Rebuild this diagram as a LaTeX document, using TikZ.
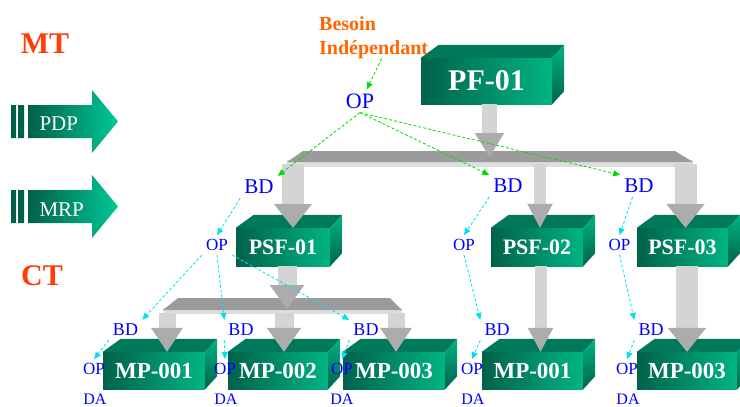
\documentclass[tikz,border=0pt]{standalone}
\usepackage{fontspec}
\setmainfont{Liberation Serif}
\usetikzlibrary{arrows.meta}
\definecolor{boxdark}{RGB}{0,98,74}
\definecolor{boxlight}{RGB}{0,180,132}
\definecolor{boxtop}{RGB}{0,120,90}
\definecolor{pipegray}{RGB}{212,212,212}
\definecolor{headgray}{RGB}{172,172,172}
\definecolor{busgray}{RGB}{155,155,155}
\definecolor{buslight}{RGB}{222,222,222}
\definecolor{labelblue}{RGB}{0,0,255}
\definecolor{dashgreen}{RGB}{0,220,0}
\definecolor{dashcyan}{RGB}{0,225,235}
\definecolor{titlered}{RGB}{255,60,10}
\definecolor{needorange}{RGB}{255,102,0}
\definecolor{flowdark}{RGB}{0,96,72}
\definecolor{flowlight}{RGB}{0,200,150}
\newcommand{\fs}[1]{\fontsize{#1}{#1}\selectfont}

\begin{document}
\begin{tikzpicture}[x=1pt,y=-1pt,
    pipe/.style={line width=#1, draw=pipegray, -{Triangle[width=10pt 1.3, length=24pt, line width=0pt, color=headgray]}}]
    \tikzstyle{block}=[inner sep=0pt, left color=boxdark, right color=boxlight, text=white]
    \tikzstyle{lbl}=[text=labelblue, inner sep=4pt]
    \tikzstyle{gconnect}=[-{Triangle[length=7pt,width=6pt]}, dashgreen, dash pattern=on 3pt off 2pt, line width=0.8pt]
    \tikzstyle{cconnect}=[-{Triangle[length=7pt,width=6pt]}, dashcyan, dash pattern=on 3pt off 2pt, line width=0.8pt]

    \useasboundingbox (0,0) rectangle (740,407);

    % horizons and plans
    \node[text=titlered, font=\fs{30}\bfseries] (mt) at (45,44) {MT};
    \node[text=titlered, font=\fs{30}\bfseries] (ct) at (42,276) {CT};
    \shade[left color=flowdark, right color=flowlight] (28,105) -- (92,105) -- (92,90) -- (118,121.5) -- (92,153) -- (92,138) -- (28,138) -- cycle;
    \fill[flowdark] (11,105) rectangle (16,138) (18,105) rectangle (24,138);
    \node[text=white, font=\fs{21}, anchor=west] (pdp) at (36,124) {PDP};
    \shade[left color=flowdark, right color=flowlight] (28,190) -- (92,190) -- (92,175) -- (118,206.5) -- (92,238) -- (92,223) -- (28,223) -- cycle;
    \fill[flowdark] (11,190) rectangle (16,223) (18,190) rectangle (24,223);
    \node[text=white, font=\fs{21}, anchor=west] (mrp) at (36,210) {MRP};

    % articles
    \node[block, minimum width=131pt, minimum height=46pt, font=\fs{30}\bfseries] (pf) at (486.5,81) {PF-01};
    \node[block, minimum width=94pt, minimum height=38pt, font=\fs{22}\bfseries] (psfa) at (283,247) {PSF-01};
    \node[block, minimum width=92pt, minimum height=38pt, font=\fs{22}\bfseries] (psfb) at (537,247) {PSF-02};
    \node[block, minimum width=91pt, minimum height=38pt, font=\fs{22}\bfseries] (psfc) at (682.5,247) {PSF-03};
    \node[block, minimum width=102pt, minimum height=37pt, font=\fs{23}\bfseries] (mpa) at (154,370.5) {MP-001};
    \node[block, minimum width=100pt, minimum height=37pt, font=\fs{23}\bfseries] (mpb) at (278,370.5) {MP-002};
    \node[block, minimum width=102pt, minimum height=37pt, font=\fs{23}\bfseries] (mpc) at (394,370.5) {MP-003};
    \node[block, minimum width=101pt, minimum height=37pt, font=\fs{23}\bfseries] (mpd) at (532.5,370.5) {MP-001};
    \node[block, minimum width=100pt, minimum height=37pt, font=\fs{23}\bfseries] (mpe) at (687,370.5) {MP-003};
    \foreach \n in {pf,psfa,psfb,psfc,mpa,mpb,mpc,mpd,mpe} {
      \fill[boxtop] (\n.north west) -- ++(18,-13) -- ([shift={(12,-13)}]\n.north east) -- (\n.north east) -- cycle;
      \shade[top color=boxlight, bottom color=boxdark] (\n.north east) -- ++(12,-13) -- ([shift={(12,-13)}]\n.south east) -- (\n.south east) -- cycle;
    }

    % gozinto links
    \fill[buslight] (287,160) rectangle (693,167);
    \fill[busgray] (303,151) -- (675,151) -- (693,162) -- (287,162) -- cycle;
    \coordinate (bustop) at (490,157);
    \coordinate (busbot) at (490,164);
    \fill[buslight] (163,308) rectangle (402,314);
    \fill[busgray] (178,298) -- (390,298) -- (402,310) -- (163,310) -- cycle;
    \coordinate (subtop) at (287,309);
    \coordinate (subbot) at (287,313);
    \coordinate (dropa) at ([xshift=10pt]psfa.north);
    \coordinate (dropb) at ([xshift=3pt]psfb.north);
    \coordinate (dropc) at ([xshift=3pt]psfc.north);
    \coordinate (dropd) at ([xshift=13pt]mpa.north);
    \coordinate (drope) at ([xshift=6pt]mpb.north);
    \coordinate (dropf) at ([xshift=2pt]mpc.north);
    \coordinate (dropg) at ([xshift=8pt]mpd.north);
    \draw[pipe=22pt] (dropa |- busbot) -- (dropa);
    \draw[pipe=12pt] (dropb |- busbot) -- (dropb);
    \draw[pipe=22pt] (dropc |- busbot) -- (dropc);
    \draw[pipe=15pt] ([xshift=3pt]pf.south) -- ([xshift=3pt]pf.south |- bustop);
    \draw[pipe=17pt] (dropd |- subbot) -- (dropd);
    \draw[pipe=19pt] (drope |- subbot) -- (drope);
    \draw[pipe=17pt] (dropf |- subbot) -- (dropf);
    \draw[pipe=19pt] ([xshift=4pt]psfa.south) -- ([xshift=4pt]psfa.south |- subtop);
    \draw[pipe=12pt] (dropg |- psfb.south) -- (dropg);
    \draw[pipe=22pt] (mpe.north |- psfc.south) -- (mpe.north);

    % labels
    \node[text=needorange, font=\fontsize{20}{24}\selectfont\bfseries, align=left, anchor=north west, inner sep=0pt] (besoin) at (319,16) {Besoin\\Indépendant};
    \node[lbl, font=\fs{22}] (optop) at (360,101) {OP};
    \node[lbl, font=\fs{21}] (bda) at (259,187) {BD};
    \node[lbl, font=\fs{21}] (bdb) at (508,186) {BD};
    \node[lbl, font=\fs{21}] (bdc) at (639,186) {BD};
    \node[lbl, font=\fs{17}] (opa) at (217,245) {OP};
    \node[lbl, font=\fs{17}] (opb) at (464,245) {OP};
    \node[lbl, font=\fs{17}] (opc) at (619.5,245) {OP};
    \node[lbl, font=\fs{18}] (bd1) at (125.5,330) {BD};
    \node[lbl, font=\fs{18}] (bd2) at (241,330) {BD};
    \node[lbl, font=\fs{18}] (bd3) at (366,330) {BD};
    \node[lbl, font=\fs{18}] (bd4) at (497,330) {BD};
    \node[lbl, font=\fs{18}] (bd5) at (651,330) {BD};
    \node[lbl, font=\fs{17}] (op1) at (94,369) {OP};
    \node[lbl, font=\fs{17}] (op2) at (225,369) {OP};
    \node[lbl, font=\fs{17}] (op3) at (342,369) {OP};
    \node[lbl, font=\fs{17}] (op4) at (472,369) {OP};
    \node[lbl, font=\fs{17}] (op5) at (627,369) {OP};
    \node[lbl, inner sep=0.5pt, font=\fs{16}] (da1) at (95,399) {DA};
    \node[lbl, inner sep=0.5pt, font=\fs{16}] (da2) at (226,399) {DA};
    \node[lbl, inner sep=0.5pt, font=\fs{16}] (da3) at (342,399) {DA};
    \node[lbl, inner sep=0.5pt, font=\fs{16}] (da4) at (473,399) {DA};
    \node[lbl, inner sep=0.5pt, font=\fs{16}] (da5) at (628,399) {DA};

    % explosion arrows
    \path
      ([xshift=8pt]besoin.south) edge [gconnect] (optop.60)
      (optop.south) edge [gconnect] (bda.north east)
      (optop.south) edge [gconnect] (bdb.north west)
      (optop.south) edge [gconnect] (bdc.north west)
      (bda.south west) edge [cconnect] (opa.north)
      (bdb.south west) edge [cconnect] (opb.north)
      (bdc.240) edge [cconnect] (opc.north)
      (opa.south west) edge [cconnect] (bd1.north east)
      (opa.south) edge [cconnect] (bd2.north west)
      (opa.south east) edge [cconnect] (bd3.north west)
      (opb.south) edge [cconnect] (bd4.north west)
      (opc.south) edge [cconnect] (bd5.north west)
      (bd1.south west) edge [cconnect] (op1.north)
      (bd2.south west) edge [cconnect] (op2.north)
      (bd3.south west) edge [cconnect] (op3.north)
      (bd4.south west) edge [cconnect] (op4.north)
      (bd5.south west) edge [cconnect] (op5.north);
\end{tikzpicture}
\end{document}
